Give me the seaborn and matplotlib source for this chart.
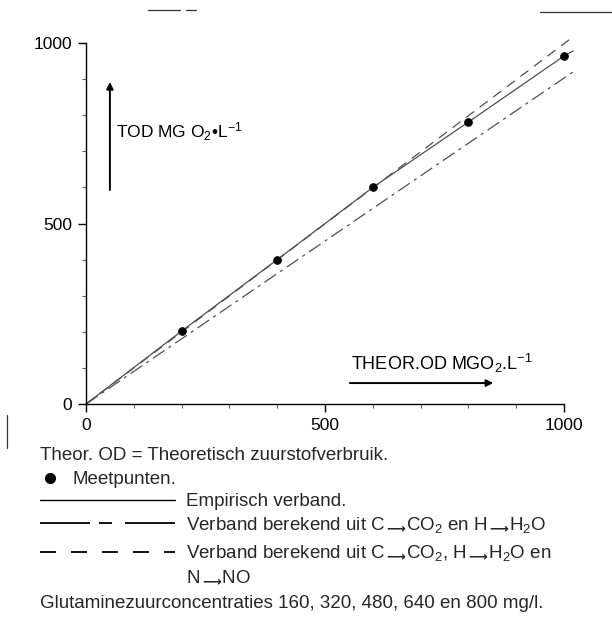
import matplotlib
matplotlib.use("Agg")
import matplotlib.pyplot as plt
from matplotlib.lines import Line2D
import seaborn as sns

# ---- data ----
pts_x = [200, 400, 600, 800, 1000]          # Meetpunten
pts_y = [202, 400, 600, 781, 964]
emp_x = [0, 200, 400, 600, 800, 1000, 1019]  # Empirisch verband
emp_y = [0, 202, 400, 600, 781, 964, 978]
co2_x = [0, 1019]                            # C->CO2, H->H2O
co2_y = [0, 920]
no_x = [0, 1019]                             # C->CO2, H->H2O, N->NO
no_y = [0, 1017]
major_ticks = [0, 500, 1000]
tick_labels = ["0", "500", "1000"]
minor_ticks = [100, 200, 300, 400, 600, 700, 800, 900]

sns.set_theme(style="white")
plt.rcParams["font.family"] = ["Liberation Sans", "DejaVu Sans"]
plt.rcParams["mathtext.fontset"] = "custom"
plt.rcParams["mathtext.rm"] = "Liberation Sans"
plt.rcParams["mathtext.it"] = "Liberation Sans:italic"
plt.rcParams["mathtext.bf"] = "DejaVu Sans:bold"
plt.rcParams["mathtext.sf"] = "DejaVu Sans"

W, H = 612, 625
fig = plt.figure(figsize=(W / 100, H / 100), dpi=100)
fig.patch.set_facecolor("white")
ax = fig.add_axes([86 / W, 1 - 404 / H, 478 / W, 361 / H])
ax.set_facecolor("white")


def dash(lw, *px):
    # convert a dash pattern in pixels to matplotlib units (points * lw)
    return (0, tuple(p / (lw * 100 / 72) for p in px))


line_col = "#505050"
sns.lineplot(x=emp_x, y=emp_y, ax=ax, color=line_col, lw=0.9, clip_on=False,
             estimator=None, sort=False)
sns.lineplot(x=co2_x, y=co2_y, ax=ax, color=line_col, lw=0.9, clip_on=False,
             estimator=None, sort=False, linestyle=dash(0.9, 14, 5, 3, 5))
sns.lineplot(x=no_x, y=no_y, ax=ax, color=line_col, lw=0.9, clip_on=False,
             estimator=None, sort=False, linestyle=dash(0.9, 10, 7))
sns.scatterplot(x=pts_x, y=pts_y, ax=ax, color="black", s=32, edgecolor="black",
                linewidth=0.5, zorder=5, clip_on=False)

ax.set_xlim(0, 1000)
ax.set_ylim(0, 1000)
for s in ["top", "right"]:
    ax.spines[s].set_visible(False)
for s in ["left", "bottom"]:
    ax.spines[s].set_color("black")
    ax.spines[s].set_linewidth(1.0)
ax.set_xticks(major_ticks)
ax.set_xticklabels(tick_labels)
ax.set_yticks(major_ticks)
ax.set_yticklabels(tick_labels)
ax.set_xticks(minor_ticks, minor=True)
ax.set_yticks(minor_ticks, minor=True)
ax.tick_params(axis="both", which="major", direction="out", length=6, width=1,
               color="black", labelsize=12.5, labelcolor="black", pad=4)
ax.tick_params(axis="both", which="minor", direction="out", length=3, width=0.8,
               color="#666666")
ax.tick_params(left=True, bottom=True)
ax.tick_params(which="minor", left=True, bottom=True)
ax.grid(False)
ax.set_xlabel("")
ax.set_ylabel("")

# vertical arrow + label
ax.annotate("", xy=(50, 892), xytext=(50, 593),
            arrowprops=dict(arrowstyle="-|>", lw=1.4, color="black",
                            mutation_scale=10, shrinkA=0, shrinkB=0),
            annotation_clip=False)
ax.text(63, 753, r"TOD MG O$_2$•L$^{-1}$", fontsize=12.5,
        ha="left", va="center", color="black")
# horizontal arrow + label
ax.annotate("", xy=(852, 58), xytext=(552, 58),
            arrowprops=dict(arrowstyle="-|>", lw=1.4, color="black",
                            mutation_scale=10, shrinkA=0, shrinkB=0),
            annotation_clip=False)
ax.text(554, 111, r"THEOR.OD MGO$_2$.L$^{-1}$", fontsize=13,
        ha="left", va="center", color="black")


def fx(px):
    return px / W


def fy(py):
    return 1 - py / H


fs = 13.5
ARR = r"$\,_{\mathbf{⟶}}$"
fig.text(fx(40), fy(460), "Theor. OD = Theoretisch zuurstofverbruik.",
         fontsize=fs, va="baseline", ha="left")
fig.add_artist(Line2D([fx(50)], [fy(478)], marker="o", ms=7, color="black",
                      transform=fig.transFigure))
fig.text(fx(72), fy(484), "Meetpunten.", fontsize=fs, va="baseline", ha="left")

fig.add_artist(Line2D([fx(40), fx(175)], [fy(500), fy(500)], color="black",
                      lw=1.0, transform=fig.transFigure))
fig.text(fx(186), fy(506), "Empirisch verband.", fontsize=fs, va="baseline", ha="left")

fig.add_artist(Line2D([fx(40), fx(175)], [fy(523), fy(523)], color="black",
                      lw=1.3, transform=fig.transFigure,
                      linestyle=dash(1.3, 50, 9, 13, 13)))
fig.text(fx(186), fy(530),
         "Verband berekend uit C" + ARR + r"CO$_2$ en H" + ARR + r"H$_2$O",
         fontsize=fs, va="baseline", ha="left")

fig.add_artist(Line2D([fx(40), fx(175)], [fy(552), fy(552)], color="black",
                      lw=1.3, transform=fig.transFigure,
                      linestyle=dash(1.3, 16, 15)))
fig.text(fx(186), fy(558),
         "Verband berekend uit C" + ARR + r"CO$_2$, H" + ARR + r"H$_2$O en",
         fontsize=fs, va="baseline", ha="left")
fig.text(fx(186), fy(582), "N" + ARR + "NO", fontsize=fs, va="baseline", ha="left")

fig.text(fx(40), fy(608), "Glutaminezuurconcentraties 160, 320, 480, 640 en 800 mg/l.",
         fontsize=fs, va="baseline", ha="left")

# scan artefacts along the page edges
for xs, ys in [([148, 180], [10, 10]), ([186, 196], [10, 10]),
               ([540, 612], [12, 12]), ([7, 7], [415, 448])]:
    fig.add_artist(Line2D([fx(x) for x in xs], [fy(y) for y in ys],
                          color="#333333", lw=0.9, transform=fig.transFigure))

fig.savefig("out.png", dpi=100, facecolor="white")
